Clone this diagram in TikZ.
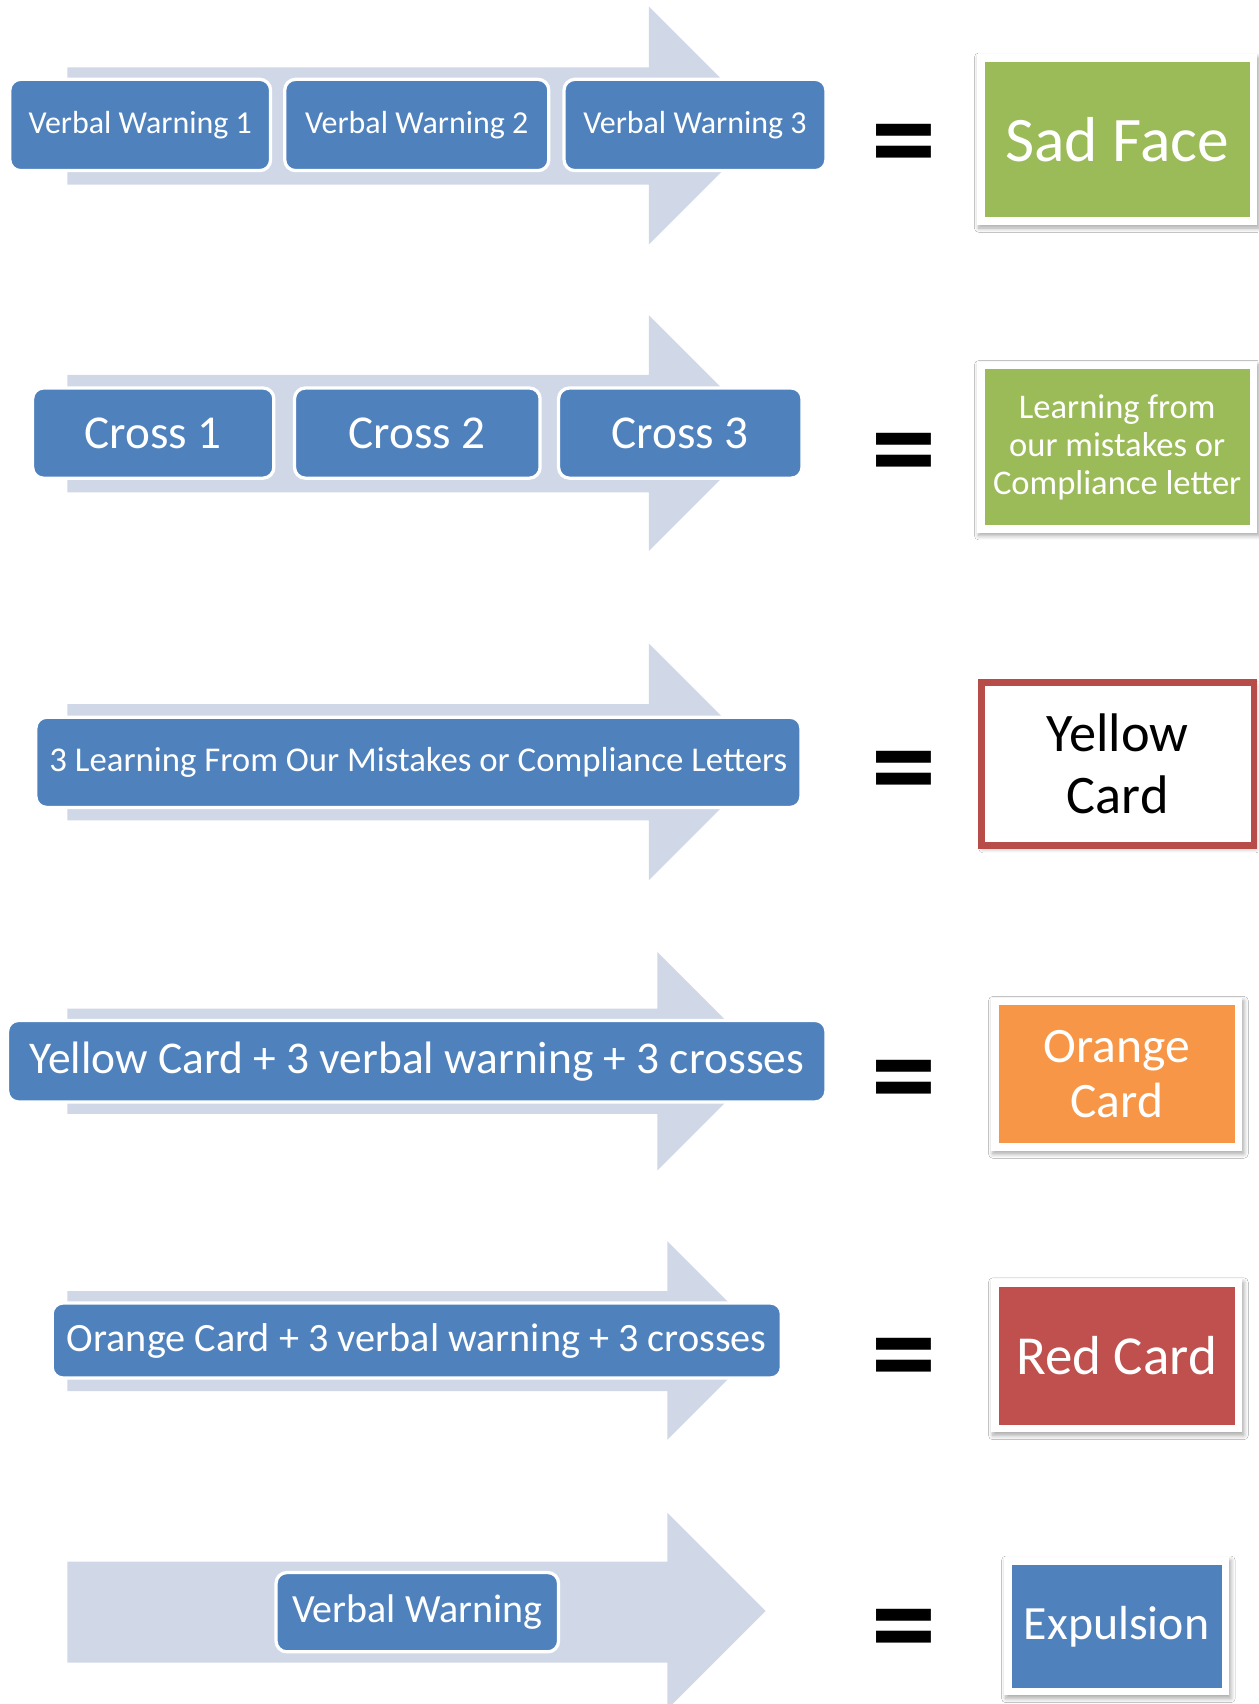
\documentclass[tikz,border=0pt]{standalone}
\usepackage{fontspec}
\setmainfont{Carlito}
\usetikzlibrary{shadows,shadows.blur}
\definecolor{boxblue}{HTML}{4F81BD}
\definecolor{arrowgray}{HTML}{D0D8E8}
\definecolor{okgreen}{HTML}{9BBB59}
\definecolor{cardorange}{HTML}{F79646}
\definecolor{cardred}{HTML}{C0504D}
\definecolor{borderred}{HTML}{B84C49}
\begin{document}
\begin{tikzpicture}[x=0.5pt,y=-0.5pt,
  bluebox/.style={draw=white, line width=1.5pt, fill=boxblue, rounded corners=5pt, text=white, inner sep=0pt, align=center},
  bigarrow/.style={fill=arrowgray},
  eqsign/.style={font=\fontsize{60}{60}\bfseries\selectfont, inner sep=0pt, anchor=base},
  softshadow/.style={blur shadow={shadow blur steps=6, shadow xshift=0.8pt, shadow yshift=-1.4pt, shadow blur radius=2pt, shadow opacity=35}},
  framebox/.style={fill=white, draw=none, inner sep=0pt, softshadow},
  cardbox/.style={inner sep=0pt, align=center, text=white},
]
\useasboundingbox (0,0) rectangle (1158,1568);
\fill[white] (0,0) rectangle (1158,1568);

% ---------- arrows ----------
\fill[bigarrow] (62,62) -- (597,62) -- (597,6) -- (706.5,115.5) -- (597,225) -- (597,170) -- (62,170) -- cycle;
\fill[bigarrow] (62,345) -- (597,345) -- (597,290) -- (705.5,398.5) -- (597,507) -- (597,453) -- (62,453) -- cycle;
\fill[bigarrow] (62,648) -- (597,648) -- (597,592) -- (706,701) -- (597,810) -- (597,755) -- (62,755) -- cycle;
\fill[bigarrow] (62,928) -- (605,928) -- (605,876) -- (705.5,976.5) -- (605,1077) -- (605,1025) -- (62,1025) -- cycle;
\fill[bigarrow] (62,1188) -- (614,1188) -- (614,1142) -- (705.5,1233.5) -- (614,1325) -- (614,1280) -- (62,1280) -- cycle;
\fill[bigarrow] (62,1437) -- (614,1437) -- (614,1392) -- (704.5,1482.5) -- (614,1573) -- (614,1530) -- (62,1530) -- cycle;

% ---------- row 1 ----------
\node[bluebox, minimum width=120pt, minimum height=42pt, font=\fontsize{14.7}{17}\selectfont] (vw1) at (129,115) {Verbal Warning 1};
\node[bluebox, minimum width=121.5pt, minimum height=42pt, font=\fontsize{14.7}{17}\selectfont] (vw2) at (383.5,115) {Verbal Warning 2};
\node[bluebox, minimum width=120.5pt, minimum height=42pt, font=\fontsize{14.7}{17}\selectfont] (vw3) at (639.5,115) {Verbal Warning 3};
\node[eqsign] (eq1) at (831.5,168) {=};
\node[framebox, minimum width=129pt, minimum height=78.5pt] (f1) at (1028,128.5) {};
\node[cardbox, fill=okgreen, minimum width=122pt, minimum height=71.5pt, font=\fontsize{29.2}{32}\selectfont] (sad) at (1028,128.5) {Sad Face};

% ---------- row 2 ----------
\node[bluebox, minimum width=111pt, minimum height=41.5pt, font=\fontsize{21.7}{24}\selectfont] (c1) at (141,398.5) {Cross 1};
\node[bluebox, minimum width=113pt, minimum height=41.5pt, font=\fontsize{21.7}{24}\selectfont] (c2) at (384,398.5) {Cross 2};
\node[bluebox, minimum width=112pt, minimum height=41.5pt, font=\fontsize{21.7}{24}\selectfont] (c3) at (626,398.5) {Cross 3};
\node[eqsign] (eq2) at (831.5,452) {=};
\node[framebox, minimum width=129pt, minimum height=78.5pt] (f2) at (1028,411.5) {};
\node[cardbox, fill=okgreen, minimum width=122pt, minimum height=71.5pt, font=\fontsize{15.9}{17.5}\selectfont] (learn) at (1028,411.5) {Learning from\\our mistakes or\\Compliance letter};

% ---------- row 3 ----------
\node[bluebox, minimum width=352pt, minimum height=41.5pt, font=\fontsize{16}{18}\selectfont] (lm) at (385,701.5) {3 Learning From Our Mistakes or Compliance Letters};
\node[eqsign] (eq3) at (831.5,745) {=};
\node[fill=white, draw=borderred, line width=3pt, inner sep=0pt, minimum width=125.5pt, minimum height=75pt, align=center, font=\fontsize{25}{28.5}\selectfont, softshadow] (yc) at (1028.5,703) {Yellow\\Card};

% ---------- row 4 ----------
\node[bluebox, minimum width=376.5pt, minimum height=37.5pt, font=\fontsize{20.9}{24}\selectfont] (yp) at (383.5,976.5) {Yellow Card + 3 verbal warning + 3 crosses};
\node[eqsign] (eq4) at (831.5,1029) {=};
\node[framebox, minimum width=115.5pt, minimum height=70.5pt] (f4) at (1027.5,988.5) {};
\node[cardbox, fill=cardorange, minimum width=108.5pt, minimum height=63.5pt, font=\fontsize{22.8}{25.5}\selectfont] (oc) at (1027.5,988.5) {Orange\\Card};

% ---------- row 5 ----------
\node[bluebox, minimum width=335.5pt, minimum height=34.5pt, font=\fontsize{18.5}{21}\selectfont] (op) at (383.5,1233.5) {Orange Card + 3 verbal warning + 3 crosses};
\node[eqsign] (eq5) at (831.5,1285) {=};
\node[framebox, minimum width=115.5pt, minimum height=70.5pt] (f5) at (1027.5,1247.5) {};
\node[cardbox, fill=cardred, minimum width=108.5pt, minimum height=63.5pt, font=\fontsize{25.3}{28}\selectfont] (rc) at (1027.5,1247.5) {Red Card};

% ---------- row 6 ----------
\node[bluebox, minimum width=130pt, minimum height=36.5pt, font=\fontsize{18.4}{20}\selectfont] (vw) at (384,1483.5) {Verbal Warning};
\node[eqsign] (eq6) at (831.5,1534) {=};
\node[framebox, minimum width=103.5pt, minimum height=63.5pt] (f6) at (1027.5,1496.5) {};
\node[cardbox, fill=boxblue, minimum width=96.5pt, minimum height=56.5pt, font=\fontsize{22}{25}\selectfont] (ex) at (1027.5,1496.5) {Expulsion};
\end{tikzpicture}
\end{document}
